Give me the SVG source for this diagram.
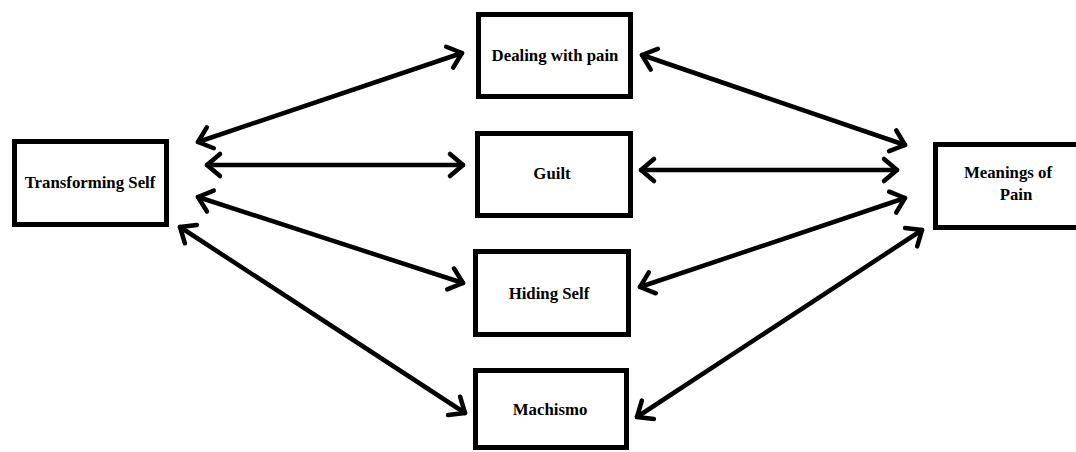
<svg xmlns="http://www.w3.org/2000/svg" width="1076" height="452" viewBox="0 0 1076 452">
<style>
.box{fill:#fff;stroke:#000;stroke-width:5}
.lbl{font-family:"Liberation Serif",serif;font-weight:bold;font-size:16.8px;fill:#000;text-anchor:middle}
.conn{stroke:#000;stroke-width:4.5;fill:none;stroke-linecap:round;marker-start:url(#ah);marker-end:url(#ah)}
</style>
<defs>
<marker id="ah" markerUnits="userSpaceOnUse" viewBox="-20 -15 24 30" markerWidth="24" markerHeight="30" refX="0" refY="0" orient="auto-start-reverse" overflow="visible">
<path d="M-13,-11 L0,0 L-13,11" fill="none" stroke="#000" stroke-width="4.5" stroke-linecap="round" stroke-linejoin="round"/>
</marker>
</defs>
<rect width="1076" height="452" fill="#fff"/>
<g id="connectors">
<line class="conn" x1="198" y1="142" x2="462" y2="53"/>
<line class="conn" x1="207" y1="165" x2="463" y2="165"/>
<line class="conn" x1="198" y1="197" x2="463" y2="283"/>
<line class="conn" x1="180" y1="227" x2="465" y2="413"/>
<line class="conn" x1="642" y1="55" x2="905" y2="145"/>
<line class="conn" x1="641" y1="170" x2="897" y2="170"/>
<line class="conn" x1="640" y1="287" x2="905" y2="198"/>
<line class="conn" x1="637" y1="417" x2="922" y2="230"/>
</g>
<g id="transforming-self">
<rect class="box" x="14.5" y="141.5" width="152" height="83"/>
<text class="lbl" x="90" y="188">Transforming Self</text>
</g>
<g id="dealing-with-pain">
<rect class="box" x="478.5" y="14.5" width="152" height="82"/>
<text class="lbl" x="555" y="61">Dealing with pain</text>
</g>
<g id="guilt">
<rect class="box" x="477.5" y="133.5" width="153" height="82"/>
<text class="lbl" x="552" y="179">Guilt</text>
</g>
<g id="hiding-self">
<rect class="box" x="475.5" y="251.5" width="153" height="83"/>
<text class="lbl" x="549" y="299">Hiding Self</text>
</g>
<g id="machismo">
<rect class="box" x="475.5" y="370.5" width="151" height="77"/>
<text class="lbl" x="550" y="415">Machismo</text>
</g>
<g id="meanings-of-pain">
<rect class="box" x="935.5" y="144.5" width="150" height="83"/>
<text class="lbl" x="1008" y="178">Meanings of</text>
<text class="lbl" x="1016" y="200">Pain</text>
</g>
</svg>
